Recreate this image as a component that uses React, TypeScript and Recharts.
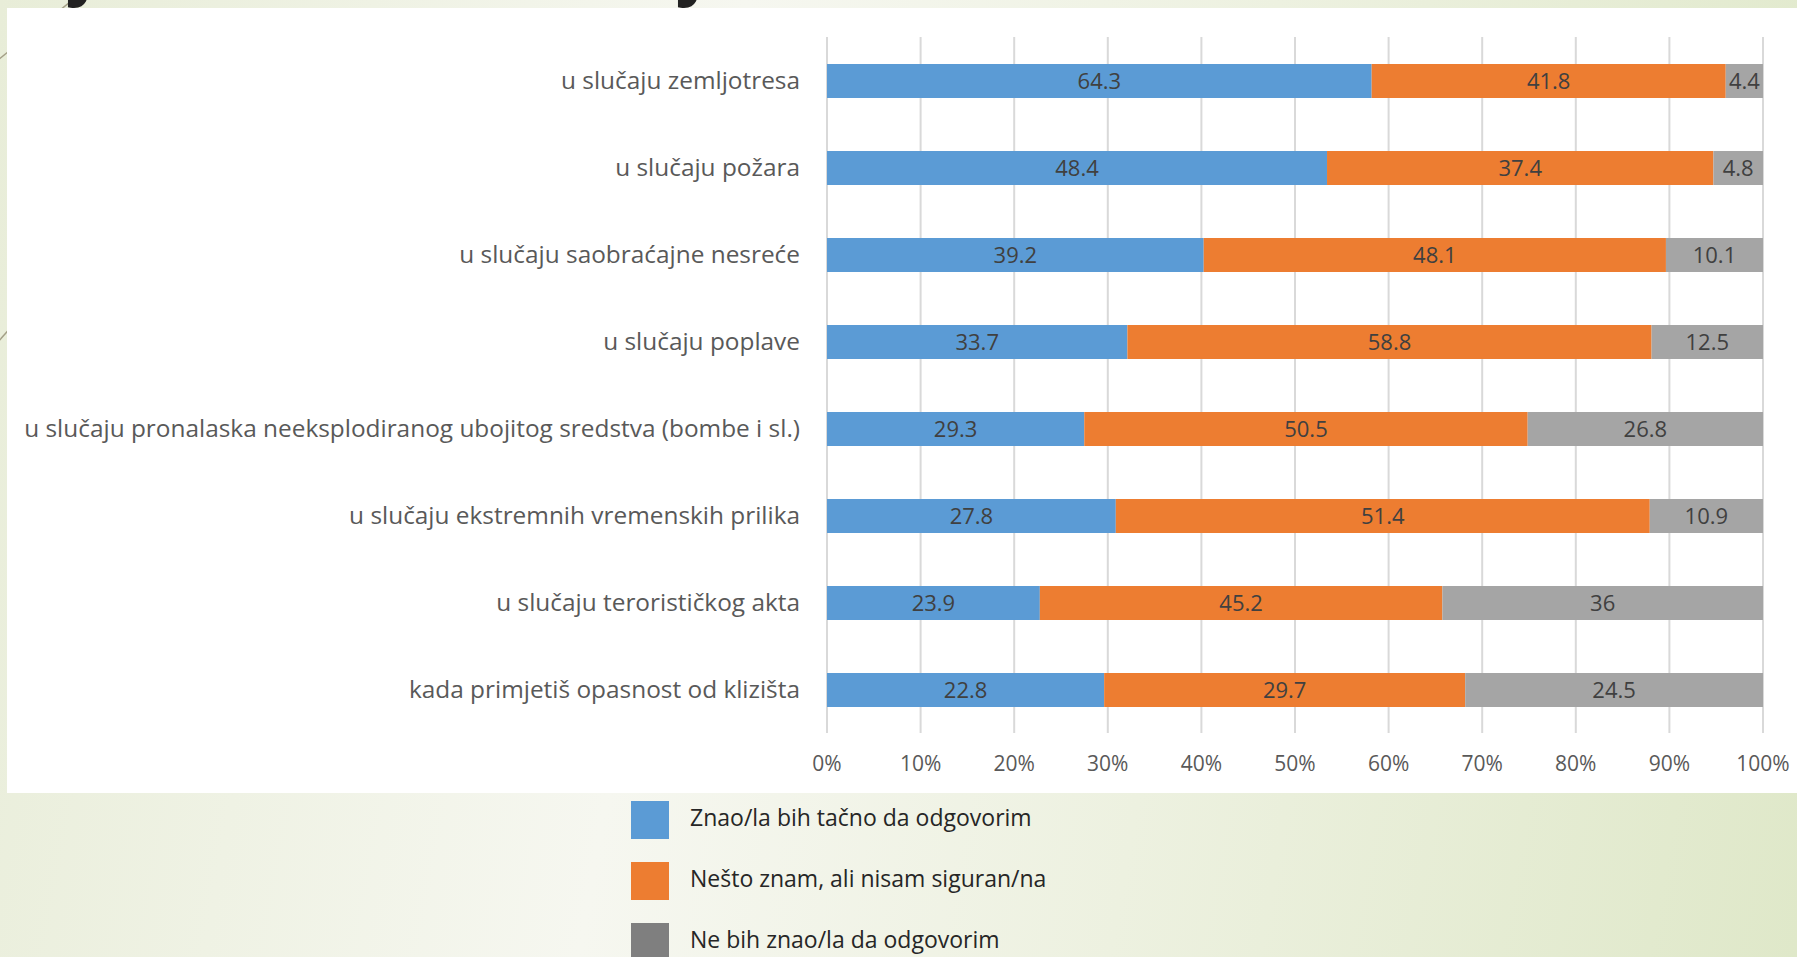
import React from 'react';
import { BarChart, Bar, XAxis, YAxis, CartesianGrid, LabelList, Legend } from 'recharts';

const categories = [
  'u slučaju zemljotresa',
  'u slučaju požara',
  'u slučaju saobraćajne nesreće',
  'u slučaju poplave',
  'u slučaju pronalaska neeksplodiranog ubojitog sredstva (bombe i sl.)',
  'u slučaju ekstremnih vremenskih prilika',
  'u slučaju terorističkog akta',
  'kada primjetiš opasnost od klizišta',
];

const knowExactly = [64.3, 48.4, 39.2, 33.7, 29.3, 27.8, 23.9, 22.8];
const knowSomewhat = [41.8, 37.4, 48.1, 58.8, 50.5, 51.4, 45.2, 29.7];
const wouldNotKnow = [4.4, 4.8, 10.1, 12.5, 26.8, 10.9, 36, 24.5];

const seriesNames = [
  'Znao/la bih tačno da odgovorim',
  'Nešto znam, ali nisam siguran/na',
  'Ne bih znao/la da odgovorim',
];

const xTicks = [0, 0.1, 0.2, 0.3, 0.4, 0.5, 0.6, 0.7, 0.8, 0.9, 1];

const rows = categories.map((name, i) => ({
  name,
  exact: knowExactly[i],
  some: knowSomewhat[i],
  none: wouldNotKnow[i],
}));

const BLUE = '#5b9bd5';
const ORANGE = '#ed7d31';
const GRAY = '#a5a5a5';
const legendSwatch: Record<string, string> = {
  [seriesNames[0]]: BLUE,
  [seriesNames[1]]: ORANGE,
  [seriesNames[2]]: '#7f7f7f',
};

const FONT = '"Open Sans", "Noto Sans", sans-serif';

function CategoryTick(props: any) {
  const { x, y, payload } = props;
  return (
    <text x={x - 19} y={y} dy="0.36em" textAnchor="end" fill="#595959" fontSize={24.4} fontFamily={FONT}>
      {payload.value}
    </text>
  );
}

function LegendBox(props: any) {
  // keep the series order (the vertical layout hands them over reversed)
  const items = [...(props.payload || [])].sort(
    (a: any, b: any) => seriesNames.indexOf(a.value) - seriesNames.indexOf(b.value)
  );
  return (
    <div style={{ fontFamily: FONT }}>
      {items.map((item: any) => (
        <div key={item.value} style={{ display: 'flex', alignItems: 'center', height: 61 }}>
          <div style={{ width: 38, height: 38, background: legendSwatch[item.value] ?? item.color, marginRight: 21 }} />
          <span style={{ fontSize: 23, color: '#262626', position: 'relative', top: -3 }}>{item.value}</span>
        </div>
      ))}
    </div>
  );
}

export default function App() {
  return (
    <div
      style={{
        position: 'fixed',
        left: 0,
        top: 0,
        width: 1797,
        height: 957,
        overflow: 'hidden',
        fontFamily: FONT,
        background: 'linear-gradient(100deg, #e8edd8 0%, #f6f7f0 38%, #edf1e0 65%, #dfe8c9 100%)',
      }}
    >
      <svg width={1797} height={957} style={{ position: 'absolute', left: 0, top: 0 }}>
        <line x1={80} y1={-6} x2={-2} y2={60} stroke="#a39f86" strokeWidth={1.5} />
        <line x1={-2} y1={342} x2={60} y2={272} stroke="#a39f86" strokeWidth={1.5} />
        <text x={88} y={-9} fontSize={72} fontWeight={700} fontStyle="italic" fill="#222" textAnchor="middle">j</text>
        <text x={698} y={-9} fontSize={72} fontWeight={700} fontStyle="italic" fill="#222" textAnchor="middle">j</text>
      </svg>
      <div style={{ position: 'absolute', left: 7, top: 8, width: 1790, height: 785, background: '#ffffff' }} />
      <div style={{ position: 'absolute', left: 0, top: 0 }}>
        <BarChart
          width={1797}
          height={957}
          data={rows}
          layout="vertical"
          stackOffset="expand"
          barSize={34}
          margin={{ top: 37, right: 34, bottom: 184, left: 0 }}
        >
          <CartesianGrid horizontal={false} stroke="#d9d9d9" strokeWidth={2} />
          <XAxis
            type="number"
            domain={[0, 1]}
            ticks={xTicks}
            tickFormatter={(v: number) => `${Math.round(v * 100)}%`}
            axisLine={false}
            tickLine={false}
            tickSize={0}
            tickMargin={23}
            height={40}
            tick={{ fill: '#595959', fontSize: 21, fontFamily: FONT }}
          />
          <YAxis
            type="category"
            dataKey="name"
            width={827}
            axisLine={false}
            tickLine={false}
            interval={0}
            tick={<CategoryTick />}
          />
          <Bar dataKey="exact" name={seriesNames[0]} stackId="a" fill={BLUE} isAnimationActive={false}>
            <LabelList dataKey="exact" position="center" fill="#404040" fontSize={22} fontFamily={FONT} />
          </Bar>
          <Bar dataKey="some" name={seriesNames[1]} stackId="a" fill={ORANGE} isAnimationActive={false}>
            <LabelList dataKey="some" position="center" fill="#404040" fontSize={22} fontFamily={FONT} />
          </Bar>
          <Bar dataKey="none" name={seriesNames[2]} stackId="a" fill={GRAY} isAnimationActive={false}>
            <LabelList dataKey="none" position="center" fill="#404040" fontSize={22} fontFamily={FONT} />
          </Bar>
          <Legend
            layout="vertical"
            verticalAlign="middle"
            align="center"
            content={<LegendBox />}
            wrapperStyle={{ left: 631, top: 789, width: 600, height: 190 }}
          />
        </BarChart>
      </div>
    </div>
  );
}
